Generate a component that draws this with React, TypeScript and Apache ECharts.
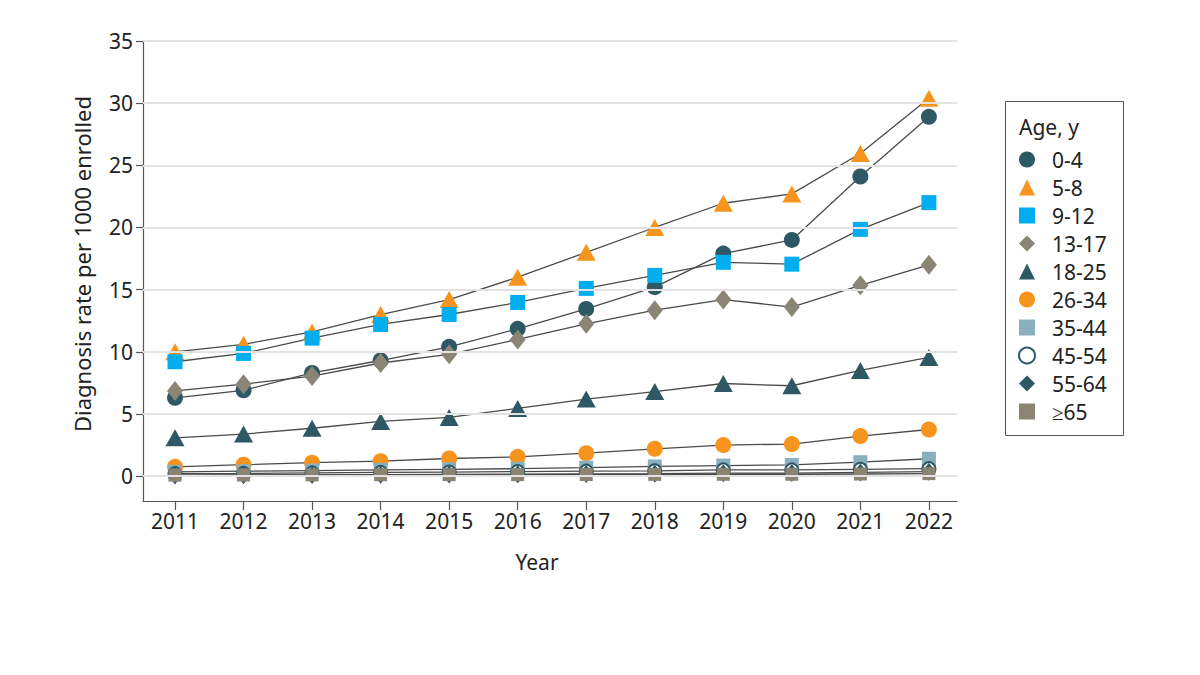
import React, { useEffect, useRef } from "react";
import * as echarts from "echarts";

const years = [2011, 2012, 2013, 2014, 2015, 2016, 2017, 2018, 2019, 2020, 2021, 2022];
const yTicks = [0, 5, 10, 15, 20, 25, 30, 35];

const age0to4 = [6.3, 6.9, 8.3, 9.3, 10.4, 11.85, 13.45, 15.2, 17.9, 19.0, 24.1, 28.9];
const age5to8 = [10.0, 10.6, 11.6, 13.0, 14.2, 16.0, 18.0, 20.0, 21.95, 22.7, 25.95, 30.4];
const age9to12 = [9.2, 9.87, 11.1, 12.2, 13.0, 13.97, 15.1, 16.15, 17.2, 17.05, 19.85, 22.0];
const age13to17 = [6.85, 7.4, 8.05, 9.1, 9.8, 11.0, 12.25, 13.35, 14.2, 13.6, 15.35, 17.0];
const age18to25 = [3.08, 3.38, 3.85, 4.4, 4.72, 5.45, 6.2, 6.8, 7.45, 7.27, 8.5, 9.55];
const age26to34 = [0.75, 0.92, 1.08, 1.2, 1.42, 1.55, 1.85, 2.2, 2.5, 2.58, 3.22, 3.75];
const age35to44 = [0.35, 0.4, 0.45, 0.5, 0.55, 0.6, 0.68, 0.78, 0.85, 0.9, 1.12, 1.4];
const age45to54 = [0.2, 0.22, 0.26, 0.3, 0.33, 0.37, 0.4, 0.43, 0.5, 0.5, 0.55, 0.6];
const age55to64 = [0.05, 0.08, 0.1, 0.12, 0.14, 0.16, 0.18, 0.2, 0.24, 0.25, 0.3, 0.36];
const age65plus = [0.08, 0.09, 0.1, 0.11, 0.12, 0.12, 0.13, 0.14, 0.15, 0.15, 0.17, 0.2];

const DARK = "#2d5864";
const ORANGE = "#f7941d";
const BLUE = "#00aeef";
const TAUPE = "#8b8575";
const LIGHTBLUE = "#8aafbe";
const GREY65 = "#8b8472";

const seriesDefs = [
  { name: "0-4", data: age0to4, symbol: "circle", size: 16, color: DARK, icon: "circle" },
  { name: "5-8", data: age5to8, symbol: "triangle", size: [19, 17], color: ORANGE, icon: "triangle" },
  { name: "9-12", data: age9to12, symbol: "rect", size: 15, color: BLUE, icon: "rect" },
  { name: "13-17", data: age13to17, symbol: "diamond", size: [16, 20], color: TAUPE, icon: "diamond" },
  { name: "18-25", data: age18to25, symbol: "triangle", size: [19, 17], color: DARK, icon: "triangle" },
  { name: "26-34", data: age26to34, symbol: "circle", size: 16, color: ORANGE, icon: "circle" },
  { name: "35-44", data: age35to44, symbol: "rect", size: 14, color: LIGHTBLUE, icon: "rect" },
  { name: "45-54", data: age45to54, symbol: "emptyCircle", size: 13, color: DARK, icon: "emptyCircle" },
  { name: "55-64", data: age55to64, symbol: "diamond", size: [14, 18], color: DARK, icon: "diamond" },
  { name: "≥65", data: age65plus, symbol: "rect", size: 13, color: GREY65, icon: "rect" },
];

const FONT = "Noto Sans";

export default function App() {
  const ref = useRef<HTMLDivElement>(null);
  useEffect(() => {
    if (!ref.current) return;
    const chart = echarts.init(ref.current, null, { renderer: "svg" });
    const series: any[] = [
      {
        name: "__grid",
        type: "line",
        data: [],
        z: 1,
        silent: true,
        markLine: {
          silent: true,
          symbol: "none",
          label: { show: false },
          lineStyle: { color: "#e2e2e2", width: 2, type: "solid" },
          data: yTicks.map((v) => ({ yAxis: v })),
        },
      },
      ...seriesDefs.map((s) => ({
        name: s.name,
        type: "line",
        data: years.map((y, i) => [y, s.data[i]]),
        symbol: s.symbol,
        symbolSize: s.size,
        showSymbol: true,
        itemStyle:
          s.symbol === "emptyCircle"
            ? { color: s.color, borderColor: s.color, borderWidth: 2.5 }
            : { color: s.color },
        lineStyle: { color: "#4a4a4a", width: 1.3 },
        emphasis: { disabled: true },
        z: 3,
      })),
    ];
    chart.setOption({
      animation: false,
      textStyle: { fontFamily: FONT },
      grid: { left: 143, right: 243, top: 41, bottom: 174, containLabel: false },
      xAxis: {
        type: "value",
        min: 2010.533,
        max: 2022.41,
        axisLine: { show: true, onZero: false, lineStyle: { color: "#555", width: 1.2 } },
        axisTick: { show: true, customValues: years, length: 9, lineStyle: { color: "#555", width: 1.2 } },
        axisLabel: {
          customValues: years,
          formatter: (v: number) => String(Math.round(v)),
          fontSize: 21,
          color: "#222",
          margin: 9,
          fontFamily: FONT,
        },
        splitLine: { show: false },
      },
      yAxis: {
        type: "value",
        min: -2,
        max: 35,
        axisLine: { show: true, onZero: false, lineStyle: { color: "#555", width: 1.2 } },
        axisTick: { show: true, customValues: yTicks, length: 7, lineStyle: { color: "#555", width: 1.2 } },
        axisLabel: {
          customValues: yTicks,
          fontSize: 21,
          color: "#222",
          margin: 10,
          fontFamily: FONT,
        },
        splitLine: { show: false },
      },
      legend: {
        orient: "vertical",
        left: 1013,
        top: 144,
        itemWidth: 16,
        itemHeight: 16,
        itemGap: 7,
        selectedMode: false,
        textStyle: { fontSize: 21, color: "#222", lineHeight: 21, fontFamily: FONT, padding: [0, 0, 0, 12] },
        data: seriesDefs.map((s) => ({ name: s.name, icon: s.icon })),
      },
      graphic: [
        {
          type: "rect",
          shape: { x: 1005.5, y: 101.5, width: 118, height: 334 },
          style: { fill: "none", stroke: "#555", lineWidth: 1 },
        },
        {
          type: "text",
          x: 1019,
          y: 127,
          style: { text: "Age, y", fontSize: 21, fill: "#222", fontFamily: FONT, verticalAlign: "middle" },
        },
        {
          type: "text",
          x: 537,
          y: 562,
          style: { text: "Year", fontSize: 21, fill: "#222", fontFamily: FONT, align: "center", verticalAlign: "middle" },
        },
        {
          type: "text",
          x: 82,
          y: 264,
          rotation: Math.PI / 2,
          style: {
            text: "Diagnosis rate per 1000 enrolled",
            fontSize: 22,
            fill: "#222",
            fontFamily: FONT,
            align: "center",
            verticalAlign: "middle",
          },
        },
      ],
      series,
    });
    return () => chart.dispose();
  }, []);
  return <div ref={ref} style={{ width: 1200, height: 675, position: "absolute", left: 0, top: 0 }} />;
}
